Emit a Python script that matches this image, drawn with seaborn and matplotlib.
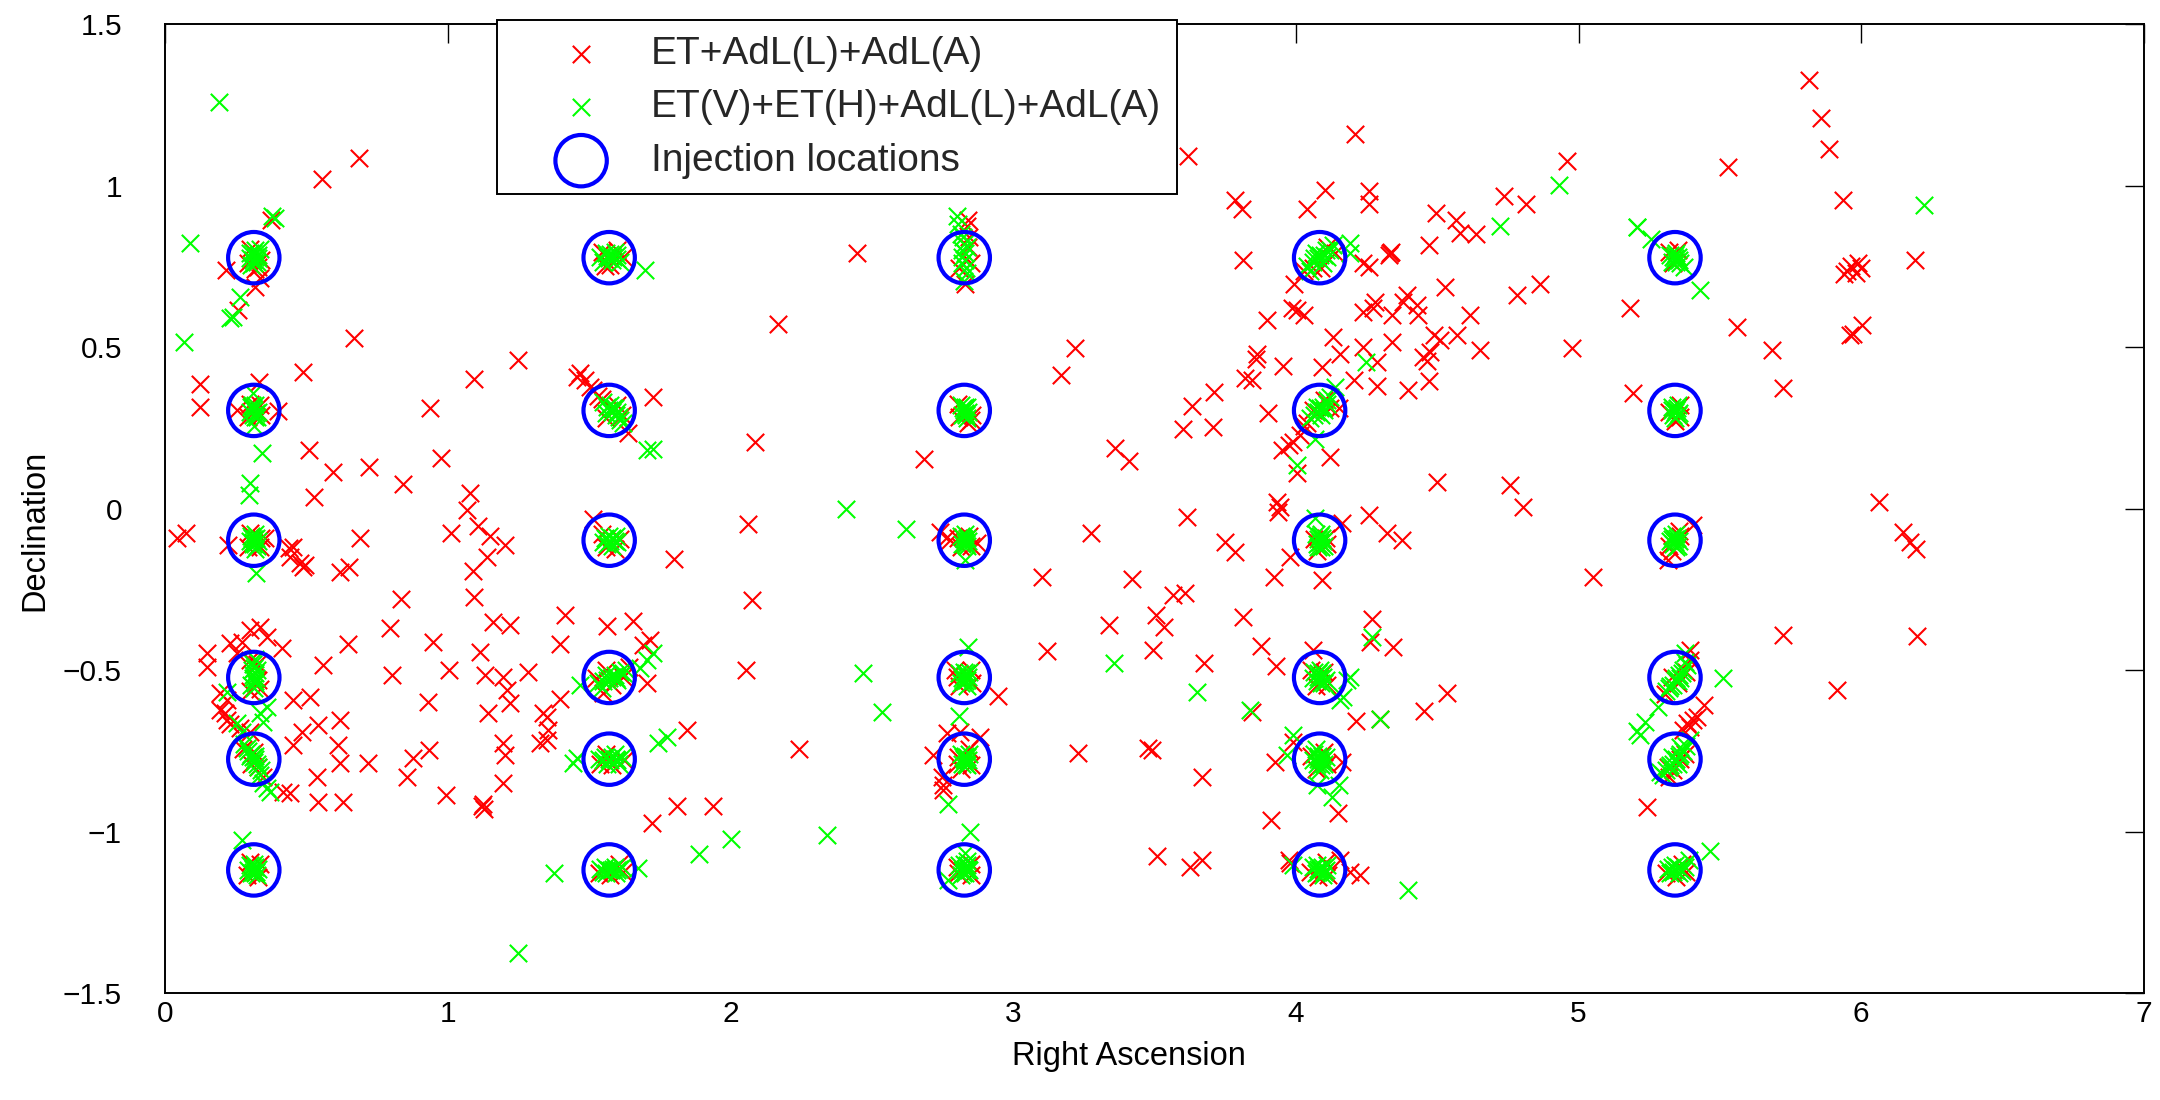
import matplotlib
matplotlib.use("Agg")
import matplotlib.pyplot as plt
import pandas as pd
import seaborn as sns

# Injection grid (right ascension columns, declination rows)
inj_ra = [0.314, 1.571, 2.827, 4.084, 5.341]
inj_dec = [0.777, 0.304, -0.098, -0.523, -0.776, -1.119]

# ET+AdL(L)+AdL(A): reconstructed sky positions away from the injections
red_field = [
    (0.686, 1.087), (0.554, 1.021), (0.375, 0.895), (0.215, 0.738), (0.318, 0.687),
    (0.336, 0.713), (0.259, 0.615), (0.669, 0.529), (1.250, 0.460), (2.449, 0.793),
    (2.169, 0.573), (3.219, 0.496), (3.618, 1.092), (4.209, 1.159), (4.958, 1.076),
    (3.785, 0.957), (3.809, 0.929), (4.039, 0.929), (4.103, 0.988), (4.257, 0.984),
    (4.257, 0.943), (4.494, 0.914), (4.568, 0.893), (4.579, 0.852), (4.638, 0.850),
    (4.737, 0.969), (4.815, 0.942), (3.812, 0.771), (4.239, 0.759), (4.260, 0.749),
    (4.333, 0.790), (4.338, 0.795), (4.328, 0.785), (4.472, 0.816), (3.993, 0.697),
    (3.985, 0.620), (4.003, 0.615), (4.027, 0.599), (3.897, 0.584), (4.133, 0.532),
    (4.239, 0.609), (4.280, 0.640), (4.274, 0.620), (4.339, 0.599), (4.380, 0.640),
    (4.392, 0.661), (4.428, 0.630), (4.433, 0.599), (4.528, 0.687), (4.616, 0.599),
    (4.781, 0.661), (4.864, 0.697), (4.487, 0.537), (4.510, 0.522), (4.569, 0.537),
    (4.339, 0.516), (4.239, 0.501), (4.651, 0.491), (4.976, 0.498), (5.182, 0.620),
    (3.862, 0.480), (4.156, 0.478), (3.859, 0.462), (3.956, 0.441), (4.092, 0.437),
    (4.286, 0.455), (4.451, 0.470), (4.474, 0.485), (4.463, 0.458), (3.820, 0.403),
    (3.844, 0.398), (3.711, 0.362), (3.632, 0.317), (3.602, 0.248), (3.708, 0.253),
    (3.903, 0.297), (4.206, 0.398), (4.288, 0.380), (4.398, 0.367), (4.472, 0.395),
    (5.191, 0.359), (3.950, 0.181), (3.974, 0.197), (3.991, 0.207), (4.015, 0.228),
    (4.003, 0.109), (4.119, 0.160), (4.151, 0.310), (4.498, 0.083), (4.757, 0.073),
    (4.803, 0.006), (3.614, -0.025), (3.932, 0.021), (3.944, 0.006), (3.938, -0.010),
    (4.162, -0.046), (4.257, -0.020), (4.321, -0.077), (4.374, -0.098), (3.750, -0.103),
    (3.785, -0.134), (3.979, -0.151), (3.924, -0.211), (4.094, -0.221), (5.052, -0.213),
    (3.567, -0.268), (3.608, -0.261), (3.505, -0.330), (3.534, -0.366), (3.814, -0.335),
    (4.270, -0.343), (4.263, -0.412), (4.343, -0.430), (3.494, -0.438), (3.876, -0.426),
    (3.676, -0.477), (3.930, -0.488), (4.062, -0.438),
    (5.816, 1.327), (5.858, 1.208), (5.884, 1.115), (5.527, 1.058), (5.934, 0.957),
    (5.950, 0.735), (5.990, 0.760), (6.000, 0.745), (5.940, 0.725), (5.980, 0.730),
    (5.965, 0.750), (6.190, 0.771), (5.562, 0.563), (5.683, 0.491), (6.002, 0.568),
    (5.960, 0.537), (5.972, 0.542), (5.722, 0.372), (6.064, 0.019), (6.146, -0.072),
    (6.172, -0.103), (6.193, -0.126), (5.406, -0.051), (5.318, -0.159), (5.723, -0.392),
    (6.196, -0.395), (5.395, -0.438),
    (0.124, 0.385), (0.124, 0.315), (0.487, 0.422), (0.333, 0.393), (0.401, 0.303),
    (0.254, 0.305), (0.510, 0.181), (0.595, 0.114), (0.722, 0.130), (0.843, 0.076),
    (0.937, 0.312), (0.976, 0.158), (1.093, 0.401), (1.456, 0.408), (1.468, 0.419),
    (1.486, 0.398), (1.503, 0.377), (1.515, 0.367), (1.639, 0.233), (1.727, 0.346),
    (0.527, 0.035), (0.041, -0.092), (0.074, -0.075), (0.224, -0.113), (0.354, -0.092),
    (0.440, -0.123), (0.454, -0.118), (0.442, -0.149), (0.478, -0.170), (0.489, -0.180),
    (0.495, -0.175), (0.619, -0.196), (0.651, -0.180), (0.690, -0.092), (0.833, -0.281),
    (0.796, -0.371), (1.011, -0.075), (1.079, 0.047), (1.069, -0.005), (1.108, -0.054),
    (1.150, -0.085), (1.202, -0.113), (1.138, -0.149), (1.091, -0.193), (1.093, -0.273),
    (1.161, -0.350), (1.220, -0.361), (1.515, -0.031), (1.415, -0.330), (1.562, -0.364),
    (1.654, -0.348), (1.397, -0.418), (1.692, -0.423), (0.147, -0.448), (0.147, -0.490),
    (0.230, -0.417), (0.271, -0.412), (0.301, -0.376), (0.336, -0.366), (0.360, -0.397),
    (0.413, -0.433), (0.254, -0.448), (0.648, -0.418), (0.560, -0.485), (0.947, -0.412),
    (1.114, -0.443), (1.006, -0.500), (1.285, -0.505), (0.802, -0.516), (1.132, -0.516),
    (1.197, -0.521),
    (2.087, 0.205), (2.683, 0.153), (3.168, 0.413), (3.360, 0.189), (3.408, 0.148),
    (2.061, -0.048), (1.800, -0.157), (2.075, -0.283), (2.741, -0.072), (2.765, -0.087),
    (2.777, -0.098), (2.871, -0.108), (3.276, -0.077), (3.101, -0.211), (3.420, -0.219),
    (3.340, -0.361), (3.121, -0.440), (1.716, -0.407), (2.055, -0.500),
    (1.209, -0.562), (1.220, -0.603), (1.144, -0.634), (0.931, -0.598), (1.397, -0.591),
    (1.338, -0.634), (1.350, -0.645), (1.356, -0.686), (1.327, -0.727), (1.350, -0.717),
    (1.197, -0.727), (1.203, -0.763), (1.197, -0.849), (0.935, -0.748), (0.878, -0.773),
    (0.857, -0.830), (0.994, -0.887), (1.120, -0.920), (1.130, -0.930), (1.125, -0.915),
    (0.719, -0.789), (0.619, -0.655), (0.613, -0.732), (0.619, -0.789), (0.542, -0.670),
    (0.484, -0.691), (0.454, -0.732), (0.454, -0.593), (0.513, -0.583), (0.539, -0.830),
    (0.542, -0.908), (0.629, -0.908), (0.442, -0.880), (0.419, -0.877), (0.195, -0.624),
    (0.212, -0.634), (0.218, -0.655), (0.230, -0.666), (0.195, -0.572), (0.218, -0.593),
    (0.265, -0.680), (0.301, -0.691), (1.704, -0.541), (1.550, -0.572), (1.722, -0.975),
    (2.945, -0.580), (2.765, -0.696), (2.812, -0.691), (2.883, -0.706), (2.718, -0.763),
    (2.747, -0.830), (2.753, -0.871), (2.751, -0.856), (3.228, -0.756), (3.478, -0.742),
    (2.244, -0.746), (1.845, -0.686), (1.810, -0.921), (1.937, -0.921),
    (3.844, -0.629), (4.213, -0.657), (4.298, -0.653), (4.534, -0.572), (4.454, -0.627),
    (3.490, -0.748), (3.667, -0.830), (3.926, -0.784), (3.991, -0.722), (4.162, -0.784),
    (4.148, -0.944), (3.911, -0.964), (3.510, -1.075), (3.626, -1.109), (3.667, -1.088),
    (3.974, -1.088), (3.979, -1.098), (4.156, -1.088), (4.192, -1.124), (4.227, -1.135),
    (5.442, -0.608), (5.383, -0.665), (5.406, -0.655), (5.418, -0.645), (5.371, -0.686),
    (5.395, -0.676), (5.241, -0.923), (5.913, -0.562),
]

# ET+AdL(L)+AdL(A): positions recovered close to each injection
red_near = [
    (0.295, 0.760), (0.328, 0.748), (0.340, 0.770), (0.300, 0.805), (0.318, 0.742),
    (1.545, 0.795), (1.600, 0.800), (1.620, 0.780), (1.575, 0.755), (1.555, 0.750),
    (2.842, 0.895), (2.838, 0.875), (2.845, 0.840), (2.810, 0.745), (2.850, 0.760),
    (2.830, 0.697), (2.840, 0.810),
    (4.030, 0.735), (4.110, 0.810), (4.060, 0.745), (4.140, 0.790), (4.090, 0.745),
    (5.320, 0.795), (5.350, 0.800), (5.335, 0.760),
    (0.295, 0.285), (0.335, 0.320), (0.340, 0.290), (0.300, 0.325),
    (1.530, 0.350), (1.545, 0.340), (1.600, 0.320), (1.615, 0.290), (1.560, 0.280),
    (2.805, 0.325), (2.850, 0.275), (2.855, 0.290), (2.840, 0.265), (2.810, 0.285),
    (4.040, 0.265), (4.030, 0.255), (4.120, 0.310), (4.100, 0.335), (4.060, 0.305),
    (5.320, 0.300), (5.360, 0.320), (5.340, 0.270), (5.360, 0.285),
    (0.295, -0.120), (0.340, -0.090), (0.300, -0.075), (0.335, -0.120),
    (1.545, -0.080), (1.610, -0.095), (1.560, -0.120), (1.590, -0.125),
    (2.805, -0.090), (2.850, -0.115), (2.815, -0.120), (2.845, -0.085),
    (4.065, -0.095), (4.105, -0.090), (4.075, -0.130), (4.110, -0.110),
    (5.320, -0.115), (5.360, -0.085), (5.330, -0.130), (5.355, -0.070),
    (0.300, -0.470), (0.330, -0.530), (0.335, -0.560), (0.300, -0.565), (0.325, -0.480),
    (1.525, -0.525), (1.580, -0.545), (1.620, -0.520), (1.640, -0.490), (1.560, -0.500),
    (2.795, -0.500), (2.800, -0.520), (2.855, -0.540), (2.810, -0.550), (2.850, -0.500),
    (4.055, -0.500), (4.110, -0.545), (4.070, -0.550), (4.100, -0.505),
    (5.305, -0.575), (5.350, -0.540), (5.380, -0.505), (5.330, -0.520), (5.395, -0.470),
    (0.275, -0.745), (0.330, -0.800), (0.345, -0.830), (0.305, -0.790), (0.315, -0.755),
    (1.540, -0.790), (1.625, -0.780), (1.580, -0.795), (1.560, -0.760),
    (2.805, -0.770), (2.850, -0.795), (2.815, -0.805), (2.845, -0.745), (2.800, -0.790),
    (4.055, -0.765), (4.110, -0.790), (4.070, -0.805), (4.100, -0.755),
    (5.315, -0.800), (5.360, -0.775), (5.335, -0.810), (5.375, -0.760), (5.320, -0.830),
    (0.290, -1.135), (0.335, -1.100), (0.300, -1.095), (0.330, -1.140),
    (1.535, -1.130), (1.620, -1.125), (1.575, -1.135), (1.605, -1.100),
    (2.800, -1.110), (2.850, -1.135), (2.805, -1.130), (2.850, -1.100),
    (4.050, -1.125), (4.115, -1.135), (4.080, -1.140), (4.105, -1.095),
    (5.310, -1.130), (5.380, -1.125), (5.345, -1.140), (5.365, -1.100),
]

# ET(V)+ET(H)+AdL(L)+AdL(A): positions away from the injections
green_field = [
    (0.192, 1.258), (0.380, 0.905), (0.390, 0.900), (0.088, 0.823), (0.265, 0.656),
    (0.230, 0.589), (0.242, 0.594), (0.067, 0.516), (1.698, 0.738), (4.929, 1.002),
    (4.722, 0.875), (5.206, 0.871), (4.192, 0.821), (4.192, 0.790), (6.223, 0.940),
    (5.208, 0.872), (5.255, 0.834), (5.372, 0.749), (5.430, 0.676),
    (0.310, 0.357), (0.313, 0.255), (0.344, 0.171), (1.704, 0.181), (1.727, 0.186),
    (0.301, 0.078), (0.298, 0.042), (0.322, -0.199), (1.704, -0.469), (1.727, -0.448),
    (1.680, -0.495), (2.407, -0.002), (2.621, -0.063), (2.830, -0.159), (3.358, -0.477),
    (2.470, -0.510), (2.842, -0.428), (4.248, 0.455), (4.139, 0.377), (4.068, 0.217),
    (4.003, 0.135), (4.068, -0.030), (4.268, -0.397), (4.192, -0.520), (5.512, -0.526),
    (5.377, -0.448), (0.218, -0.567), (0.254, -0.665), (0.271, -0.691), (0.336, -0.634),
    (0.348, -0.660), (0.360, -0.614), (0.360, -0.866), (0.371, -0.877), (0.348, -0.851),
    (0.271, -1.026), (1.247, -1.375), (1.468, -0.546), (1.442, -0.789), (1.456, -0.773),
    (1.745, -0.727), (1.775, -0.708), (1.377, -1.130), (1.674, -1.114), (2.535, -0.629),
    (2.810, -0.642), (2.769, -0.915), (2.847, -1.001), (2.001, -1.024), (1.887, -1.071),
    (2.341, -1.011), (2.830, -1.068), (2.771, -1.150), (3.649, -0.567), (3.838, -0.624),
    (4.180, -0.531), (4.168, -0.583), (4.156, -0.593), (4.298, -0.653), (5.206, -0.690),
    (5.218, -0.701), (3.991, -0.701), (3.968, -0.763), (4.151, -0.856), (4.127, -0.892),
    (4.074, -0.856), (3.991, -1.104), (4.398, -1.181), (5.282, -0.614), (5.235, -0.660),
    (5.288, -0.815), (5.395, -0.717), (5.359, -0.738), (5.465, -1.059), (5.389, -1.088),
]

# ET(V)+ET(H)+AdL(L)+AdL(A): positions recovered close to each injection
green_near = [
    (0.300, 0.790), (0.318, 0.800), (0.330, 0.785), (0.310, 0.770), (0.325, 0.765),
    (0.305, 0.755), (0.320, 0.778), (0.335, 0.805), (0.312, 0.790), (0.328, 0.775),
    (0.300, 0.775), (0.315, 0.760),
    (1.540, 0.780), (1.560, 0.790), (1.580, 0.770), (1.600, 0.785), (1.610, 0.765),
    (1.550, 0.765), (1.590, 0.795), (1.570, 0.775), (1.575, 0.788), (1.585, 0.780),
    (1.565, 0.783), (1.600, 0.772),
    (2.800, 0.905), (2.805, 0.880), (2.815, 0.850), (2.825, 0.820), (2.830, 0.790),
    (2.820, 0.760), (2.835, 0.730), (2.825, 0.705), (2.830, 0.770), (2.820, 0.800),
    (2.822, 0.840), (2.832, 0.745), (2.818, 0.780), (2.835, 0.810),
    (4.040, 0.750), (4.060, 0.765), (4.080, 0.775), (4.100, 0.785), (4.120, 0.800),
    (4.070, 0.790), (4.095, 0.760), (4.050, 0.735), (4.130, 0.815), (4.085, 0.785),
    (4.105, 0.800), (4.065, 0.775), (4.110, 0.780),
    (5.325, 0.785), (5.340, 0.775), (5.355, 0.770), (5.345, 0.790), (5.330, 0.765),
    (5.360, 0.760), (5.340, 0.785), (5.350, 0.780), (5.335, 0.780), (5.345, 0.765),
    (0.305, 0.315), (0.320, 0.320), (0.330, 0.300), (0.310, 0.290), (0.325, 0.285),
    (0.300, 0.300), (0.315, 0.305), (0.312, 0.310), (0.322, 0.295), (0.308, 0.320),
    (0.318, 0.285),
    (1.550, 0.330), (1.565, 0.315), (1.580, 0.300), (1.595, 0.290), (1.610, 0.275),
    (1.575, 0.320), (1.590, 0.310), (1.560, 0.295), (1.620, 0.265), (1.585, 0.310),
    (1.600, 0.300), (1.570, 0.305), (1.605, 0.285),
    (2.815, 0.320), (2.830, 0.315), (2.840, 0.300), (2.820, 0.290), (2.835, 0.280),
    (2.825, 0.305), (2.828, 0.295), (2.822, 0.310), (2.838, 0.315), (2.832, 0.290),
    (4.050, 0.280), (4.065, 0.290), (4.080, 0.300), (4.095, 0.315), (4.110, 0.325),
    (4.075, 0.315), (4.090, 0.290), (4.120, 0.345), (4.085, 0.310), (4.100, 0.305),
    (4.070, 0.300), (4.110, 0.335),
    (5.330, 0.315), (5.345, 0.305), (5.355, 0.295), (5.335, 0.290), (5.350, 0.320),
    (5.340, 0.280), (5.340, 0.300), (5.348, 0.310), (5.332, 0.305), (5.352, 0.290),
    (0.305, -0.085), (0.320, -0.080), (0.330, -0.100), (0.310, -0.110), (0.325, -0.115),
    (0.300, -0.100), (0.315, -0.095), (0.320, -0.125), (0.312, -0.105), (0.322, -0.090),
    (0.308, -0.090), (0.318, -0.110),
    (1.555, -0.090), (1.570, -0.085), (1.585, -0.095), (1.600, -0.105), (1.565, -0.110),
    (1.580, -0.115), (1.550, -0.105), (1.595, -0.085), (1.575, -0.100), (1.590, -0.100),
    (1.560, -0.095), (1.580, -0.090),
    (2.815, -0.085), (2.830, -0.080), (2.840, -0.100), (2.820, -0.110), (2.835, -0.115),
    (2.825, -0.095), (2.828, -0.105), (2.822, -0.090), (2.838, -0.090), (2.832, -0.110),
    (4.070, -0.080), (4.085, -0.085), (4.095, -0.100), (4.075, -0.110), (4.090, -0.120),
    (4.080, -0.095), (4.100, -0.115), (4.085, -0.105), (4.092, -0.090), (4.078, -0.120),
    (4.088, -0.080),
    (5.330, -0.085), (5.345, -0.080), (5.355, -0.100), (5.335, -0.110), (5.350, -0.115),
    (5.325, -0.100), (5.340, -0.095), (5.340, -0.105), (5.348, -0.090), (5.332, -0.095),
    (5.345, -0.120),
    (0.310, -0.480), (0.315, -0.495), (0.320, -0.510), (0.310, -0.525), (0.320, -0.540),
    (0.315, -0.555), (0.325, -0.500), (0.305, -0.545), (0.318, -0.465), (0.312, -0.515),
    (0.322, -0.525), (0.308, -0.500), (0.318, -0.535),
    (1.530, -0.540), (1.550, -0.535), (1.570, -0.525), (1.590, -0.515), (1.610, -0.505),
    (1.630, -0.500), (1.560, -0.515), (1.600, -0.530), (1.545, -0.555), (1.580, -0.520),
    (1.595, -0.525), (1.565, -0.530), (1.620, -0.510),
    (2.810, -0.510), (2.825, -0.505), (2.840, -0.520), (2.830, -0.535), (2.815, -0.540),
    (2.845, -0.505), (2.820, -0.525), (2.835, -0.550), (2.828, -0.515), (2.822, -0.530),
    (2.838, -0.530), (2.832, -0.510),
    (4.065, -0.505), (4.080, -0.510), (4.095, -0.520), (4.075, -0.535), (4.090, -0.540),
    (4.105, -0.530), (4.060, -0.525), (4.085, -0.500), (4.085, -0.525), (4.092, -0.510),
    (4.078, -0.520), (4.098, -0.540),
    (5.310, -0.565), (5.325, -0.550), (5.340, -0.530), (5.355, -0.515), (5.370, -0.500),
    (5.385, -0.485), (5.335, -0.545), (5.360, -0.525), (5.375, -0.475), (5.345, -0.525),
    (5.365, -0.510), (5.320, -0.555), (5.350, -0.535),
    (0.280, -0.730), (0.295, -0.750), (0.310, -0.770), (0.325, -0.790), (0.340, -0.810),
    (0.300, -0.765), (0.320, -0.775), (0.335, -0.825), (0.290, -0.740), (0.305, -0.760),
    (0.315, -0.785), (0.330, -0.800), (0.318, -0.765),
    (1.535, -0.775), (1.555, -0.770), (1.575, -0.780), (1.595, -0.775), (1.615, -0.770),
    (1.565, -0.790), (1.590, -0.760), (1.605, -0.790), (1.580, -0.770), (1.570, -0.775),
    (1.600, -0.780), (1.550, -0.780),
    (2.815, -0.760), (2.830, -0.765), (2.840, -0.780), (2.820, -0.790), (2.835, -0.795),
    (2.825, -0.775), (2.845, -0.760), (2.828, -0.780), (2.822, -0.770), (2.838, -0.770),
    (2.832, -0.790),
    (4.065, -0.760), (4.080, -0.765), (4.095, -0.780), (4.075, -0.790), (4.090, -0.795),
    (4.105, -0.770), (4.060, -0.780), (4.085, -0.810), (4.070, -0.745), (4.085, -0.780),
    (4.092, -0.765), (4.078, -0.775), (4.098, -0.790),
    (5.310, -0.810), (5.325, -0.795), (5.340, -0.780), (5.355, -0.765), (5.370, -0.750),
    (5.330, -0.770), (5.350, -0.790), (5.300, -0.825), (5.380, -0.735), (5.345, -0.775),
    (5.335, -0.790), (5.360, -0.760), (5.320, -0.800),
    (0.300, -1.105), (0.315, -1.100), (0.330, -1.115), (0.310, -1.125), (0.325, -1.135),
    (0.305, -1.130), (0.320, -1.110), (0.295, -1.120), (0.312, -1.115), (0.322, -1.125),
    (0.308, -1.110), (0.318, -1.130),
    (1.540, -1.115), (1.555, -1.110), (1.570, -1.120), (1.585, -1.115), (1.600, -1.120),
    (1.615, -1.110), (1.560, -1.130), (1.595, -1.130), (1.550, -1.125), (1.578, -1.118),
    (1.590, -1.110), (1.565, -1.115), (1.605, -1.115),
    (2.810, -1.105), (2.825, -1.100), (2.840, -1.115), (2.830, -1.130), (2.815, -1.135),
    (2.845, -1.120), (2.820, -1.120), (2.835, -1.090), (2.828, -1.115), (2.822, -1.130),
    (2.838, -1.105), (2.832, -1.120),
    (4.060, -1.110), (4.075, -1.105), (4.090, -1.115), (4.105, -1.120), (4.070, -1.130),
    (4.095, -1.135), (4.085, -1.120), (4.110, -1.105), (4.080, -1.115), (4.092, -1.110),
    (4.078, -1.125), (4.100, -1.125),
    (5.315, -1.115), (5.330, -1.110), (5.345, -1.120), (5.360, -1.115), (5.375, -1.110),
    (5.325, -1.130), (5.355, -1.130), (5.340, -1.105), (5.340, -1.118), (5.350, -1.110),
    (5.335, -1.125), (5.365, -1.122),
]

x_ticks = [0, 1, 2, 3, 4, 5, 6, 7]
y_ticks = [-1.5, -1.0, -0.5, 0.0, 0.5, 1.0, 1.5]
y_tick_labels = ["\u22121.5", "\u22121", "\u22120.5", "0", "0.5", "1", "1.5"]
series_labels = ["ET+AdL(L)+AdL(A)", "ET(V)+ET(H)+AdL(L)+AdL(A)", "Injection locations"]

red = pd.DataFrame(red_field + red_near, columns=["ra", "dec"])
green = pd.DataFrame(green_field + green_near, columns=["ra", "dec"])
inj = pd.DataFrame([(r, d) for r in inj_ra for d in inj_dec], columns=["ra", "dec"])

sns.set_theme(style="white")
plt.rcParams["font.family"] = ["Liberation Sans", "DejaVu Sans"]
plt.rcParams["axes.unicode_minus"] = True

fig = plt.figure(figsize=(21.6, 11), dpi=100)
ax = fig.add_axes([0.0764, 0.0973, 0.9162, 0.8807])

sns.scatterplot(data=red, x="ra", y="dec", marker="x", color="#ff0000", s=12.5 ** 2,
                linewidth=1.5, label=series_labels[0], ax=ax, zorder=3)
sns.scatterplot(data=green, x="ra", y="dec", marker="x", color="#00ff00", s=12.5 ** 2,
                linewidth=1.5, label=series_labels[1], ax=ax, zorder=4)
sns.scatterplot(data=inj, x="ra", y="dec", marker="o", s=37 ** 2, color="#0000ff",
                facecolor="none", edgecolor="#0000ff", linewidth=3.0,
                label=series_labels[2], ax=ax, zorder=5)

ax.set_xlim(0, 7)
ax.set_ylim(-1.5, 1.5)
ax.set_xticks(x_ticks)
ax.set_xticklabels([str(t) for t in x_ticks])
ax.set_yticks(y_ticks)
ax.set_yticklabels(y_tick_labels)
ax.tick_params(direction="in", length=14, width=1.0, top=True, right=True,
               labelsize=21.5, colors="black")
ax.tick_params(axis="x", pad=5)
ax.tick_params(axis="y", pad=31)
for spine in ax.spines.values():
    spine.set_color("black")
    spine.set_linewidth(1.4)

ax.set_xlabel("Right Ascension", fontsize=23.5, color="black")
ax.set_ylabel("Declination", fontsize=23.5, color="black")
ax.xaxis.set_label_coords(0.487, -0.050)
ax.yaxis.set_label_coords(-0.058, 0.477)

leg = ax.legend(loc="upper left", bbox_to_anchor=(0.168, 1.004), borderaxespad=0,
                fontsize=28, frameon=True, fancybox=False, edgecolor="black",
                framealpha=1, borderpad=0.40, labelspacing=0.45, handlelength=3.5,
                handletextpad=0.05, scatterpoints=1)
leg.get_frame().set_linewidth(1.4)
leg.set_zorder(10)

fig.savefig("out.png", dpi=100, facecolor="white")
